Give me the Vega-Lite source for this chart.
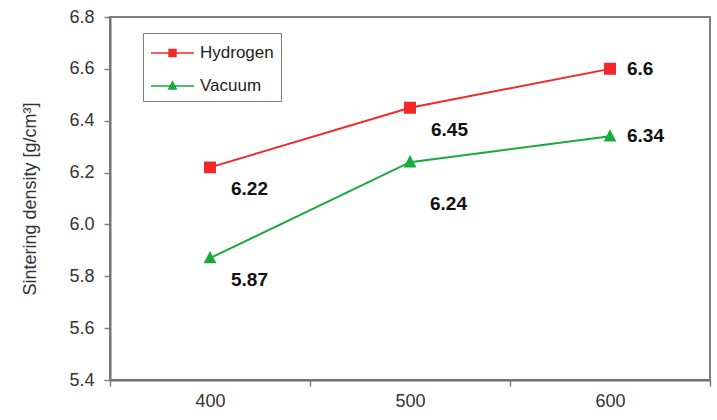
{
  "$schema": "https://vega.github.io/schema/vega-lite/v6.json",
  "width": 600,
  "height": 363,
  "autosize": "none",
  "padding": {"left": 110, "top": 17, "right": 7, "bottom": 40},
  "background": "white",
  "config": {
    "font": "Liberation Sans",
    "view": {"stroke": "#7f7f7f", "strokeWidth": 2},
    "axis": {
      "domainColor": "#707070",
      "domainWidth": 2,
      "tickColor": "#808080",
      "tickWidth": 1.5,
      "tickSize": 6,
      "labelFont": "Liberation Sans",
      "labelFontSize": 18,
      "labelColor": "#333333",
      "titleFont": "Liberation Sans",
      "titleFontSize": 18,
      "titleFontWeight": "normal",
      "titleColor": "#333333",
      "grid": false
    }
  },
  "data": {
    "values": [
      {"temperature": "400", "series": "Hydrogen", "density": 6.22},
      {"temperature": "500", "series": "Hydrogen", "density": 6.45},
      {"temperature": "600", "series": "Hydrogen", "density": 6.6},
      {"temperature": "400", "series": "Vacuum", "density": 5.87},
      {"temperature": "500", "series": "Vacuum", "density": 6.24},
      {"temperature": "600", "series": "Vacuum", "density": 6.34}
    ]
  },
  "encoding": {
    "x": {
      "field": "temperature",
      "type": "ordinal",
      "bandPosition": 0.5,
      "scale": {"type": "band", "domain": ["400", "500", "600"], "paddingInner": 0, "paddingOuter": 0},
      "axis": {"tickBand": "extent", "labelAngle": 0, "title": null, "labelPadding": 6}
    },
    "y": {
      "field": "density",
      "type": "quantitative",
      "scale": {"domain": [5.4, 6.8], "nice": false, "zero": false},
      "axis": {
        "values": [5.4, 5.6, 5.8, 6.0, 6.2, 6.4, 6.6, 6.8],
        "format": ".1f",
        "title": "Sintering density [g/cm³]",
        "labelPadding": 10,
        "titlePadding": 29
      }
    },
    "color": {
      "field": "series",
      "type": "nominal",
      "scale": {"domain": ["Hydrogen", "Vacuum"], "range": ["#f02828", "#18aa3a"]},
      "legend": {
        "title": null,
        "orient": "none",
        "legendX": 33,
        "legendY": 16,
        "strokeColor": "#808080",
        "fillColor": "white",
        "padding": 7,
        "labelFontSize": 17,
        "labelColor": "#222222",
        "labelOffset": 5,
        "symbolSize": 1849,
        "rowPadding": 12,
        "encode": {
          "symbols": {
            "update": {
              "size": {"value": 1849},
              "y": {"value": 13},
              "stroke": {"signal": "datum.value == 'Hydrogen' ? '#f02828' : '#18aa3a'"},
              "strokeWidth": {"value": 1.5}
            }
          },
          "labels": {
            "update": {
              "y": {"value": 13}
            }
          }
        }
      }
    }
  },
  "layer": [
    {
      "mark": {"type": "line", "strokeWidth": 2}
    },
    {
      "mark": {"type": "point", "filled": true, "strokeWidth": 0, "opacity": 1, "size": 5600},
      "encoding": {
        "shape": {
          "field": "series",
          "type": "nominal",
          "scale": {
            "domain": ["Hydrogen", "Vacuum"],
            "range": [
              "M-1,0H1M-0.16,-0.16H0.16V0.16H-0.16Z",
              "M-1,0H1M0,-0.19L0.17,0.14H-0.17Z"
            ]
          }
        }
      }
    },
    {
      "transform": [{"filter": "datum.temperature == '600'"}],
      "mark": {"type": "text", "align": "left", "baseline": "middle", "dx": 17, "dy": 0, "fontSize": 19, "fontWeight": "bold", "color": "#111111"},
      "encoding": {"text": {"field": "density", "type": "quantitative", "format": ".3~g"}, "color": {"value": "#111111"}}
    },
    {
      "transform": [{"filter": "datum.temperature != '600' && !(datum.series == 'Vacuum' && datum.temperature == '500')"}],
      "mark": {"type": "text", "align": "left", "baseline": "middle", "dx": 21, "dy": 22, "fontSize": 19, "fontWeight": "bold", "color": "#111111"},
      "encoding": {"text": {"field": "density", "type": "quantitative", "format": ".3~g"}, "color": {"value": "#111111"}}
    },
    {
      "transform": [{"filter": "datum.series == 'Vacuum' && datum.temperature == '500'"}],
      "mark": {"type": "text", "align": "left", "baseline": "middle", "dx": 20, "dy": 42, "fontSize": 19, "fontWeight": "bold", "color": "#111111"},
      "encoding": {"text": {"field": "density", "type": "quantitative", "format": ".3~g"}, "color": {"value": "#111111"}}
    }
  ]
}
